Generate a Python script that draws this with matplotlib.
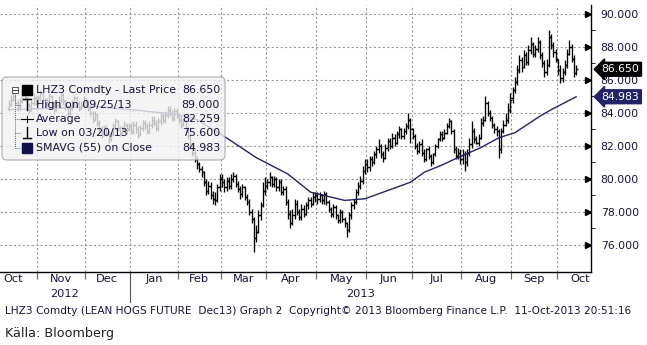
import numpy as np
import matplotlib
matplotlib.use('Agg')
import matplotlib.pyplot as plt
import matplotlib.transforms as mtransforms
from matplotlib.patches import FancyBboxPatch, Rectangle
from matplotlib.lines import Line2D
from matplotlib.ticker import FormatStrFormatter

# months on the time axis and number of trading days shown in each
month_names = ['Oct', 'Nov', 'Dec', 'Jan', 'Feb', 'Mar', 'Apr', 'May', 'Jun', 'Jul', 'Aug', 'Sep', 'Oct']
month_days = [13, 21, 20, 21, 19, 20, 22, 22, 20, 22, 22, 20, 9]
year_names = ['2012', '2013']

# daily OHLC, one line per month
opens = [
    84.3, 84.5, 84.8, 85.0, 84.6, 84.3, 84.7, 85.1, 84.9, 84.5, 84.2, 84.6, 84.9,
    84.7, 84.9, 85.2, 84.8, 84.5, 84.7, 85.0, 84.6, 84.2, 84.5, 84.8, 85.1, 84.7, 84.4, 84.0, 84.3, 84.6, 84.9, 84.6, 84.3, 84.5,
    84.8, 84.6, 84.3, 84.0, 83.6, 83.9, 83.4, 83.0, 82.7, 83.1, 82.8, 82.4, 82.7, 83.2, 83.5, 83.1, 82.8, 83.0, 83.3, 83.0,
    83.2, 82.9, 83.3, 83.0, 82.7, 83.1, 83.4, 83.2, 82.9, 83.3, 83.6, 83.4, 83.1, 83.5, 83.8, 83.6, 83.9, 84.2, 84.0, 83.7, 84.1,
    83.9, 83.6, 83.3, 83.5, 83.0, 82.6, 82.0, 81.6, 81.2, 80.9, 80.6, 80.4, 79.8, 79.3, 79.6, 79.0, 78.8, 78.7, 79.5,
    80.0, 79.8, 79.5, 79.9, 79.6, 80.0, 80.2, 79.7, 79.4, 79.1, 79.5, 78.9, 78.6, 78.0, 77.6, 76.4, 76.8, 77.8, 78.4, 79.3,
    79.6, 79.8, 80.1, 79.7, 80.0, 79.5, 79.8, 79.2, 79.4, 78.6, 77.9, 77.3, 77.8, 78.5, 78.0, 77.7, 78.2, 77.9, 78.4, 78.7, 78.5, 78.9,
    79.0, 78.8, 79.0, 78.7, 79.1, 78.6, 78.2, 77.9, 78.3, 77.8, 77.5, 78.0, 77.6, 77.3, 76.9, 77.8, 78.4, 78.6, 79.2, 79.6, 79.9, 80.5,
    80.9, 80.7, 81.2, 81.0, 81.5, 81.8, 82.0, 81.5, 81.3, 81.9, 82.3, 82.0, 82.5, 82.2, 82.7, 83.0, 82.6, 82.9, 83.2, 83.6,
    83.0, 82.6, 82.0, 81.7, 82.1, 81.6, 81.2, 81.8, 81.4, 81.0, 81.5, 82.0, 82.4, 82.7, 82.5, 82.8, 83.2, 83.5, 82.9, 81.8, 81.4, 81.6,
    81.2, 81.5, 81.0, 81.6, 82.1, 82.9, 82.4, 82.2, 82.5, 83.4, 83.6, 84.6, 84.0, 83.7, 83.3, 83.0, 82.9, 81.8, 82.9, 83.3, 83.6, 84.2,
    84.9, 85.4, 85.9, 86.6, 87.2, 86.8, 87.5, 87.1, 87.8, 88.2, 87.6, 87.9, 88.3, 87.5, 87.0, 86.5, 86.9, 88.6, 88.1, 87.7,
    87.2, 86.6, 86.1, 86.5, 86.9, 87.6, 88.0, 87.3, 86.4,
]
highs = [
    84.8, 85.1, 85.4, 85.1, 84.8, 84.9, 85.4, 85.3, 85.0, 84.6, 84.8, 85.2, 85.0,
    85.1, 85.4, 85.3, 84.9, 84.9, 85.2, 85.1, 84.7, 84.7, 85.0, 85.3, 85.2, 84.8, 84.5, 84.5, 84.8, 85.1, 85.0, 84.7, 84.7, 85.0,
    84.9, 84.8, 84.5, 84.1, 84.1, 84.0, 83.6, 83.2, 83.3, 83.3, 82.9, 82.9, 83.4, 83.7, 83.6, 83.2, 83.2, 83.5, 83.4, 83.4,
    83.4, 83.5, 83.5, 83.2, 83.3, 83.6, 83.6, 83.4, 83.5, 83.8, 83.8, 83.6, 83.7, 84.0, 84.0, 84.1, 84.4, 84.4, 84.2, 84.3, 84.3,
    84.0, 83.8, 83.7, 83.6, 83.2, 82.8, 82.2, 81.8, 81.4, 81.0, 80.8, 80.5, 80.0, 79.9, 79.8, 79.3, 79.2, 79.7, 80.3,
    80.3, 80.0, 80.1, 80.1, 80.3, 80.4, 80.3, 79.9, 79.6, 79.7, 79.6, 79.1, 78.8, 78.2, 77.7, 77.2, 78.1, 78.6, 79.8, 80.1,
    80.0, 80.4, 80.2, 80.2, 80.1, 80.0, 80.0, 79.6, 79.6, 78.8, 78.1, 78.2, 78.8, 78.7, 78.2, 78.5, 78.4, 78.6, 78.9, 78.9, 79.2, 79.2,
    79.2, 79.2, 79.1, 79.3, 79.2, 78.7, 78.3, 78.5, 78.4, 77.9, 78.2, 78.1, 77.7, 77.4, 78.0, 78.6, 78.8, 79.4, 79.8, 80.2, 80.8, 81.2,
    81.2, 81.4, 81.4, 81.7, 82.0, 82.4, 82.1, 81.7, 82.1, 82.5, 82.5, 82.8, 82.7, 82.9, 83.2, 83.1, 83.1, 83.4, 84.0, 83.7,
    83.1, 82.7, 82.2, 82.3, 82.4, 81.8, 81.9, 82.0, 81.5, 81.6, 82.1, 82.5, 82.9, 82.9, 83.0, 83.4, 83.7, 83.6, 83.0, 82.0, 81.9, 81.8,
    81.8, 81.7, 81.8, 82.5, 83.5, 83.1, 82.6, 82.7, 83.7, 83.8, 85.0, 84.7, 84.2, 83.8, 83.4, 83.2, 83.0, 83.1, 83.6, 84.0, 84.6, 85.2,
    85.6, 86.2, 86.9, 87.5, 87.4, 87.8, 87.7, 88.1, 88.6, 88.3, 88.1, 88.6, 88.4, 87.7, 87.2, 87.3, 89.0, 88.8, 88.3, 87.9,
    87.3, 86.9, 86.7, 87.2, 87.9, 88.4, 88.2, 87.5, 86.9,
]
lows = [
    84.1, 84.4, 84.7, 84.5, 84.1, 84.2, 84.6, 84.7, 84.3, 84.0, 84.1, 84.5, 84.5,
    84.5, 84.7, 84.6, 84.3, 84.4, 84.5, 84.4, 84.0, 84.1, 84.3, 84.6, 84.5, 84.2, 83.8, 83.9, 84.2, 84.4, 84.4, 84.1, 84.2, 84.4,
    84.4, 84.1, 83.8, 83.4, 83.5, 83.2, 82.8, 82.5, 82.6, 82.6, 82.2, 82.3, 82.6, 83.0, 82.9, 82.6, 82.7, 82.9, 82.8, 82.9,
    82.7, 82.7, 82.8, 82.5, 82.6, 82.9, 83.0, 82.7, 82.7, 83.1, 83.2, 82.9, 82.9, 83.3, 83.4, 83.4, 83.7, 83.8, 83.5, 83.5, 83.7,
    83.4, 83.1, 83.2, 82.8, 82.4, 81.8, 81.4, 81.0, 80.6, 80.4, 80.1, 79.6, 79.0, 79.1, 78.8, 78.5, 78.4, 78.6, 79.3,
    79.5, 79.2, 79.3, 79.4, 79.4, 79.8, 79.5, 79.2, 78.8, 78.9, 78.7, 78.4, 77.8, 77.3, 75.6, 76.2, 76.7, 77.5, 78.3, 79.0,
    79.4, 79.6, 79.5, 79.5, 79.3, 79.3, 79.0, 79.0, 78.4, 77.6, 77.0, 77.2, 77.6, 77.8, 77.5, 77.5, 77.7, 77.8, 78.2, 78.3, 78.4, 78.6,
    78.5, 78.6, 78.5, 78.5, 78.4, 78.0, 77.7, 77.7, 77.6, 77.3, 77.3, 77.4, 77.1, 76.5, 76.8, 77.6, 78.2, 78.5, 79.0, 79.4, 79.7, 80.3,
    80.4, 80.5, 80.8, 80.9, 81.3, 81.6, 81.3, 81.0, 81.2, 81.7, 81.8, 81.9, 82.0, 82.1, 82.5, 82.4, 82.4, 82.7, 83.0, 82.2,
    82.4, 81.8, 81.5, 81.6, 81.4, 81.0, 81.1, 81.2, 80.8, 80.9, 81.4, 81.9, 82.3, 82.3, 82.4, 82.7, 83.1, 82.7, 81.6, 81.2, 81.2, 80.9,
    80.9, 80.5, 80.8, 81.4, 81.9, 82.2, 82.1, 82.0, 82.4, 83.2, 83.5, 83.8, 83.5, 83.1, 82.8, 82.6, 81.3, 81.6, 82.8, 83.2, 83.4, 84.0,
    84.6, 85.2, 85.7, 86.4, 86.5, 86.7, 86.9, 86.9, 87.6, 87.4, 87.4, 87.7, 87.3, 86.8, 86.2, 86.3, 86.8, 87.9, 87.4, 87.1,
    86.3, 85.8, 85.9, 86.3, 86.7, 87.5, 87.1, 86.2, 86.3,
]
closes = [
    84.5, 84.8, 85.0, 84.6, 84.3, 84.7, 85.1, 84.9, 84.5, 84.2, 84.6, 84.9, 84.7,
    84.9, 85.2, 84.8, 84.5, 84.7, 85.0, 84.6, 84.2, 84.5, 84.8, 85.1, 84.7, 84.4, 84.0, 84.3, 84.6, 84.9, 84.6, 84.3, 84.5, 84.8,
    84.6, 84.3, 84.0, 83.6, 83.9, 83.4, 83.0, 82.7, 83.1, 82.8, 82.4, 82.7, 83.2, 83.5, 83.1, 82.8, 83.0, 83.3, 83.0, 83.2,
    82.9, 83.3, 83.0, 82.7, 83.1, 83.4, 83.2, 82.9, 83.3, 83.6, 83.4, 83.1, 83.5, 83.8, 83.6, 83.9, 84.2, 84.0, 83.7, 84.1, 83.9,
    83.6, 83.3, 83.5, 83.0, 82.6, 82.0, 81.6, 81.2, 80.9, 80.6, 80.4, 79.8, 79.3, 79.6, 79.0, 78.8, 78.7, 79.5, 80.0,
    79.8, 79.5, 79.9, 79.6, 80.0, 80.2, 79.7, 79.4, 79.1, 79.5, 78.9, 78.6, 78.0, 77.6, 76.4, 76.8, 77.8, 78.4, 79.3, 79.6,
    79.8, 80.1, 79.7, 80.0, 79.5, 79.8, 79.2, 79.4, 78.6, 77.9, 77.3, 77.8, 78.5, 78.0, 77.7, 78.2, 77.9, 78.4, 78.7, 78.5, 78.9, 79.0,
    78.8, 79.0, 78.7, 79.1, 78.6, 78.2, 77.9, 78.3, 77.8, 77.5, 78.0, 77.6, 77.3, 76.9, 77.8, 78.4, 78.6, 79.2, 79.6, 79.9, 80.5, 80.9,
    80.7, 81.2, 81.0, 81.5, 81.8, 82.0, 81.5, 81.3, 81.9, 82.3, 82.0, 82.5, 82.2, 82.7, 83.0, 82.6, 82.9, 83.2, 83.6, 83.0,
    82.6, 82.0, 81.7, 82.1, 81.6, 81.2, 81.8, 81.4, 81.0, 81.5, 82.0, 82.4, 82.7, 82.5, 82.8, 83.2, 83.5, 82.9, 81.8, 81.4, 81.6, 81.2,
    81.5, 81.0, 81.6, 82.1, 82.9, 82.4, 82.2, 82.5, 83.4, 83.6, 84.6, 84.0, 83.7, 83.3, 83.0, 82.9, 81.8, 82.9, 83.3, 83.6, 84.2, 84.8,
    85.4, 85.9, 86.6, 87.2, 86.8, 87.5, 87.1, 87.8, 88.2, 87.6, 87.9, 88.3, 87.5, 87.0, 86.5, 86.9, 88.6, 88.1, 87.7, 87.3,
    86.6, 86.1, 86.5, 86.9, 87.6, 88.0, 87.3, 86.4, 86.65,
]

# 55 day moving average, read at points along the line (bar index, value)
sma_idx = [0, 23, 38, 54, 68, 75, 83, 97, 109, 123, 133, 148, 157, 165, 177, 183, 191, 198, 208, 216, 223, 234, 239, 250]
sma_val = [84.2, 84.3, 84.4, 84.2, 84.0, 83.9, 83.6, 82.4, 81.3, 80.3, 79.2, 78.7, 78.8, 79.2, 79.8, 80.4, 80.85, 81.3, 81.9, 82.5, 82.8, 83.8, 84.2, 84.98]

legend_labels = ['LHZ3 Comdty - Last Price', 'High on 09/25/13', 'Average', 'Low on 03/20/13', 'SMAVG (55) on Close']
legend_values = ['86.650', '89.000', '82.259', '75.600', '84.983']
last_price = 86.65
last_sma = 84.983

footer = 'LHZ3 Comdty (LEAN HOGS FUTURE  Dec13) Graph 2  Copyright\u00a9 2013 Bloomberg Finance L.P.  11-Oct-2013 20:51:16'
source = 'Källa: Bloomberg'

FONT = 'DejaVu Sans'
TXT = '#14143c'
NAVY = '#22226a'

fig = plt.figure(figsize=(6.47, 3.45), dpi=100)
inch = fig.dpi_scale_trans


def px(x, y):
    # pixel position measured from top left -> inches
    return x / 100.0, (345 - y) / 100.0


ax = fig.add_axes([0, 73 / 345, 591 / 647, 267 / 345])
ax.set_axisbelow(True)

o = np.array(opens)
h = np.array(highs)
l = np.array(lows)
c = np.array(closes)
x = np.arange(len(c))
lo = np.minimum(l, np.minimum(o, c))
hi = np.maximum(h, np.maximum(o, c))

ax.vlines(x, lo, hi, color='black', lw=0.95, zorder=3)
ax.hlines(o, x - 0.9, x, color='black', lw=0.95, zorder=3)
ax.hlines(c, x, x + 0.9, color='black', lw=0.95, zorder=3)
ax.plot(sma_idx, sma_val, color=NAVY, lw=1.0, zorder=4)

bounds = np.cumsum([0] + month_days) - 0.5
xmin, xmax = -3.8, 256.55
ax.set_xlim(xmin, xmax)
ax.set_ylim(74.36, 90.545)

ax.set_xticks(bounds[1:-1])
ax.set_xticklabels([])
ax.set_yticks(np.arange(76, 91, 2))
ax.set_yticks(np.arange(77, 91, 2), minor=True)
ax.yaxis.tick_right()
ax.yaxis.set_major_formatter(FormatStrFormatter('%.3f'))
ax.grid(True, which='major', color='#9a9a9a', lw=0.8, ls=(0, (2, 2)))

for s in ['left', 'top']:
    ax.spines[s].set_visible(False)
for s in ['right', 'bottom']:
    ax.spines[s].set_color('black')
    ax.spines[s].set_linewidth(1.0)

ax.tick_params(axis='y', which='major', length=0, pad=7, labelsize=7.8, labelcolor=TXT)
ax.tick_params(axis='y', which='minor', length=3, direction='out', color='black')
ax.tick_params(axis='x', which='major', length=5, direction='out', color='#666666')

ytrans = mtransforms.blended_transform_factory(ax.transAxes, ax.transData)
xtrans = mtransforms.blended_transform_factory(ax.transData, ax.transAxes)

# arrow heads of the major ticks on the price axis
ax.plot([0.995] * 8, np.arange(76, 91, 2), ls='none', marker='>', ms=4, color='black',
        transform=ytrans, clip_on=False, zorder=5)

# month and year labels
for i, name in enumerate(month_names):
    if i == 0:
        mid = bounds[1] - 10.5
    elif i == len(month_names) - 1:
        mid = bounds[i] + 10.5
    else:
        mid = (bounds[i] + bounds[i + 1]) / 2
    ax.text(mid, -0.028, name, transform=xtrans, ha='center', va='center',
            fontsize=8.2, family=FONT, color=TXT)

ax.text((xmin + bounds[3]) / 2, -0.083, year_names[0], transform=xtrans, ha='center', va='center',
        fontsize=8.2, family=FONT, color=TXT)
ax.text((bounds[3] + xmax) / 2, -0.083, year_names[1], transform=xtrans, ha='center', va='center',
        fontsize=8.2, family=FONT, color=TXT)
ax.plot([bounds[3], bounds[3]], [0, -0.112], transform=xtrans, color='#555555', lw=0.8, clip_on=False)

# last value tags on the price axis
ax.text(1.018, last_price, '%.3f' % last_price, transform=ytrans, ha='left', va='center',
        color='white', fontsize=7.8, zorder=6, clip_on=False,
        bbox=dict(boxstyle='larrow,pad=0.18', fc='black', ec='black'))
ax.text(1.018, last_sma, '%.3f' % last_sma, transform=ytrans, ha='left', va='center',
        color='white', fontsize=7.8, zorder=6, clip_on=False,
        bbox=dict(boxstyle='larrow,pad=0.18', fc=NAVY, ec=NAVY))

# legend box
leg = FancyBboxPatch(px(2, 160), 2.23, 0.83, boxstyle='round,pad=0,rounding_size=0.05',
                     transform=inch, fc='#f2f2f2', ec='#9a9a9a', lw=0.8, alpha=0.8, zorder=5)
fig.add_artist(leg)

rows = [90, 104.5, 119, 133.5, 148]

# tree lines
fig.add_artist(Line2D([0.15, 0.15], [px(0, 93)[1], px(0, 148)[1]], transform=inch,
                      color='#666666', lw=0.7, ls=(0, (1, 1)), zorder=6))
for ry in rows[1:]:
    fig.add_artist(Line2D([0.15, 0.21], [px(0, ry)[1]] * 2, transform=inch,
                          color='#666666', lw=0.7, ls=(0, (1, 1)), zorder=6))
fig.add_artist(Rectangle(px(12, 93), 0.06, 0.06, transform=inch, fc='white', ec='#555555', lw=0.7, zorder=6))
fig.add_artist(Line2D([0.13, 0.17], [px(0, 90)[1]] * 2, transform=inch, color='#333333', lw=0.7, zorder=7))

# symbols
fig.add_artist(Rectangle(px(22, 95), 0.10, 0.10, transform=inch, fc='black', ec='black', zorder=6))
fig.add_artist(Line2D([0.23, 0.31], [px(0, 99)[1]] * 2, transform=inch, color='black', lw=1.0, zorder=6))
fig.add_artist(Line2D([0.27, 0.27], [px(0, 99)[1], px(0, 110)[1]], transform=inch, color='black', lw=1.0, zorder=6))
fig.add_artist(Line2D([0.21, 0.33], [px(0, 119)[1]] * 2, transform=inch, color='black', lw=0.8, zorder=6))
fig.add_artist(Line2D([0.27, 0.27], [px(0, 116)[1], px(0, 122)[1]], transform=inch, color='black', lw=0.8, zorder=6))
fig.add_artist(Line2D([0.27, 0.27], [px(0, 127)[1], px(0, 138)[1]], transform=inch, color='black', lw=1.0, zorder=6))
fig.add_artist(Line2D([0.23, 0.31], [px(0, 138)[1]] * 2, transform=inch, color='black', lw=1.0, zorder=6))
fig.add_artist(Rectangle(px(22, 153), 0.10, 0.10, transform=inch, fc='#10104a', ec='#10104a', zorder=6))

for ry, lab, val in zip(rows, legend_labels, legend_values):
    fig.text(*px(36, ry), lab, transform=inch, va='center', ha='left', fontsize=7.9,
             family=FONT, color=TXT, zorder=7)
    fig.text(*px(220, ry), val, transform=inch, va='center', ha='right', fontsize=7.9,
             family=FONT, color=TXT, zorder=7)

fig.text(*px(5, 311), footer, transform=inch, va='center', ha='left', fontsize=7.6,
         family=FONT, color=TXT)
fig.text(*px(5, 333), source, transform=inch, va='center', ha='left', fontsize=9.2,
         family=FONT, color='#222222')

fig.savefig('out.png', dpi=100)
